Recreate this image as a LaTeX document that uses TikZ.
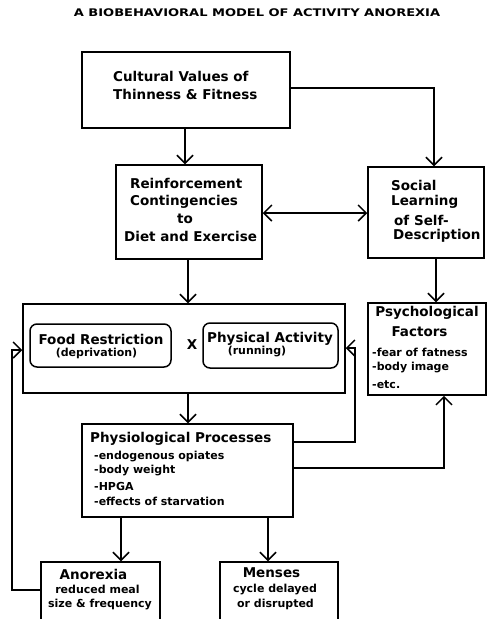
\documentclass[tikz,border=0pt]{standalone}
\usepackage{fontspec}
\setmainfont{DejaVu Sans}
\usetikzlibrary{arrows.meta}
\begin{document}
\begin{tikzpicture}[x=1pt,y=-1pt,
  box/.style={draw,line width=1.5pt,inner sep=0pt},
  rbox/.style={box,rounded corners=7pt},
  big/.style={font=\fontsize{13.5}{15}\selectfont\bfseries,inner sep=0pt},
  small/.style={font=\fontsize{11}{13}\selectfont\bfseries,inner sep=0pt},
  tip/.tip={Straight Barb[length=8pt,width=16pt,line width=1.5pt]},
  conn/.style={line width=1.5pt,-tip},
  line/.style={line width=1.5pt}]
\useasboundingbox (0,0) rectangle (488,619);
\clip (0,0) rectangle (488,619);
% title
\node[font=\fontsize{10.5}{12}\selectfont\bfseries,inner sep=0pt] (title) at (257,13) {\scalebox{1.24}[1]{A BIOBEHAVIORAL MODEL OF ACTIVITY ANOREXIA}};
% boxes
\node[box,minimum width=208pt,minimum height=76pt] (cult) at (186,90) {};
\node[box,minimum width=146pt,minimum height=94pt] (reinf) at (189,212) {};
\node[box,minimum width=116pt,minimum height=91pt] (social) at (426,212.5) {};
\node[box,minimum width=322pt,minimum height=89pt] (bigbox) at (184,348.5) {};
\node[rbox,minimum width=141pt,minimum height=43pt] (food) at (100.5,345.5) {};
\node[rbox,minimum width=135pt,minimum height=45pt] (phys) at (270.5,345.5) {};
\node[box,minimum width=118pt,minimum height=92pt] (psych) at (427,349) {};
\node[box,minimum width=211pt,minimum height=93pt] (physio) at (187.5,470.5) {};
\node[box,minimum width=119pt,minimum height=70pt] (anor) at (100.5,597) {};
\node[box,minimum width=118pt,minimum height=70pt] (menses) at (279,597) {};
% texts
\node[big,anchor=west] (t1) at (113,76) {Cultural Values of};
\node[big,anchor=west] (t2) at (113,94) {Thinness \& Fitness};
\node[big,anchor=west] (r1) at (130,183) {Reinforcement};
\node[big,anchor=west] (r2) at (130,202) {Contingencies};
\node[big] (r3) at (185,219) {to};
\node[big,anchor=west] (r4) at (124,236) {Diet and Exercise};
\node[big,anchor=west] (s1) at (391,185) {Social};
\node[big,anchor=west] (s2) at (391,202) {Learning};
\node[big,anchor=west] (s3) at (394,220) {of Self-};
\node[big,anchor=west] (s4) at (393,236) {Description};
\node[big] (f1) at (101,339) {Food Restriction};
\node[small] (f2) at (96.5,353) {(deprivation)};
\node[big] (xx) at (192,345) {X};
\node[big] (p1) at (270,339) {Physical Activity};
\node[small] (p2) at (257,352) {(running)};
\node[big] (q1) at (427,313) {Psychological};
\node[big] (q2) at (419.5,332) {Factors};
\node[small,anchor=west] (q3) at (372,352) {-fear of fatness};
\node[small,anchor=west] (q4) at (372,368) {-body image};
\node[small,anchor=west] (q5) at (372,385) {-etc.};
\node[big,anchor=west] (h1) at (90,439) {Physiological Processes};
\node[small,anchor=west] (h2) at (94,457) {-endogenous opiates};
\node[small,anchor=west] (h3) at (94,471) {-body weight};
\node[small,anchor=west] (h4) at (94,486) {-HPGA};
\node[small,anchor=west] (h5) at (94,501) {-effects of starvation};
\node[big] (a1) at (93.5,574) {Anorexia};
\node[small] (a2) at (97.5,589) {reduced meal};
\node[small] (a3) at (100,604) {size \& frequency};
\node[big] (m1) at (271.5,573) {Menses};
\node[small] (m2) at (275,589) {cycle delayed};
\node[small] (m3) at (275.5,604) {or disrupted};
% connectors
\draw[conn] (cult.south -| 185,0) -- (reinf.north -| 185,0);
\draw[conn] (cult.east |- 0,88) -| (social.north -| 434,0);
\draw[line,tip-tip] (reinf.east |- 0,213) -- (social.west |- 0,213);
\draw[conn] (reinf.south -| 188,0) -- (bigbox.north -| 188,0);
\draw[conn] (social.south -| 436,0) -- (psych.north -| 436,0);
\draw[conn] (bigbox.south -| 188,0) -- (physio.north -| 188,0);
\draw[conn] (physio.south -| 121,0) -- (anor.north -| 121,0);
\draw[conn] (physio.south -| 268,0) -- (menses.north -| 268,0);
\coordinate (lc1) at (12,590);
\coordinate (lc2) at (12,350);
\draw[conn] (anor.west |- lc1) -- (lc1) -- (lc2) -- (bigbox.west |- lc2);
\coordinate (rc1) at (355,442);
\coordinate (rc2) at (355,348);
\draw[conn] (physio.east |- rc1) -- (rc1) -- (rc2) -- (bigbox.east |- rc2);
\coordinate (pc1) at (444,468);
\draw[conn] (physio.east |- pc1) -| (psych.south -| pc1);
\end{tikzpicture}
\end{document}
